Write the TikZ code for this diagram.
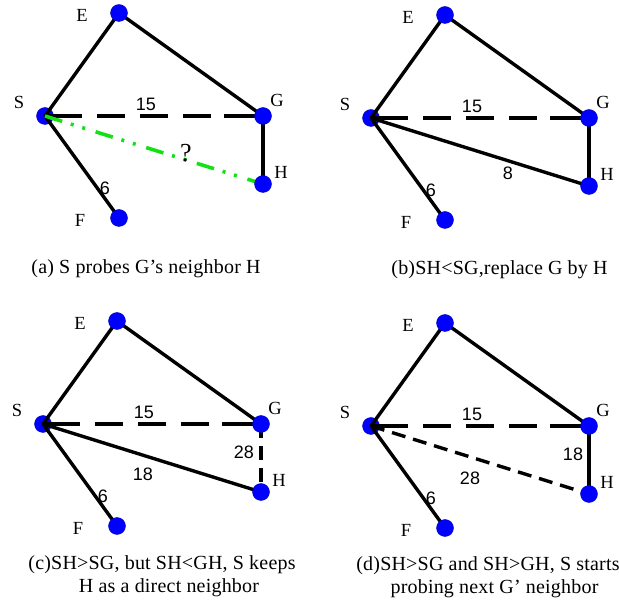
\documentclass[tikz,border=0pt]{standalone}
\usepackage{fontspec}
\setmainfont{Liberation Serif}
\newfontfamily\capfont[LetterSpace=1]{Liberation Serif}
\newfontfamily\numfont{Liberation Sans}
\definecolor{probegreen}{RGB}{20,225,20}
\pgfdeclarelayer{fg}
\pgfsetlayers{main,fg}
\newcommand\mygraph[1]{%
  \node[vertex] (#1S) at (0,0) {};
  \begin{pgfonlayer}{fg}
    \node[vertex] (#1E) at (74,-103) {};
    \node[vertex] (#1G) at (218,0) {};
    \node[vertex] (#1H) at (218,68) {};
    \node[vertex] (#1F) at (74,102) {};
  \end{pgfonlayer}
  \node[vlabel] (#1Sl) at (-26,-14) {S};
  \node[vlabel] (#1El) at (37,-101) {E};
  \node[vlabel] (#1Gl) at (232,-16) {G};
  \node[vlabel] (#1Hl) at (236,56) {H};
  \node[vlabel] (#1Fl) at (35,104) {F};
  \draw[edge] (#1S.center) -- (#1E.center);
  \draw[edge] (#1E.center) -- (#1G.center);
  \draw[edge] (#1S.center) -- (#1F.center);
  \draw[longdash] (#1S.center) -- (#1G.center);
  \node[wlabel] (#1w15) at (101,-12) {15};
  \node[wlabel] (#1w6) at (60,72) {6};
}
\begin{document}
\begin{tikzpicture}[x=1pt,y=-1pt,
  vertex/.style={circle,fill=blue,draw=blue!75!black,line width=0.4pt,inner sep=0pt,minimum size=17pt},
  vlabel/.style={font=\fontsize{18.5}{18.5}\selectfont,inner sep=0pt},
  wlabel/.style={font=\numfont\fontsize{18}{18}\selectfont,inner sep=0pt},
  caption/.style={font=\capfont\fontsize{20}{20}\selectfont,inner sep=0pt,anchor=base},
  edge/.style={line width=3.4pt,draw=black},
  longdash/.style={edge,dash pattern=on 37pt off 15pt on 28pt off 15pt on 28pt off 15pt on 28pt off 13pt on 40pt},
  shortdash/.style={edge,dash pattern=on 14pt off 8pt},
  probe/.style={line width=3.6pt,draw=probegreen,dash pattern=on 18pt off 9pt on 3pt off 9pt on 3pt off 11pt}]
\useasboundingbox (0,0) rectangle (619,601);

% (a)
\begin{scope}[shift={(45,116)}]
  \mygraph{a}
  \draw[edge] (aG.center) -- (aH.center);
  \draw[probe] (aS.center) -- (aH.center);
  \node[vlabel,font=\fontsize{26}{26}\selectfont] (aq) at (141,37) {?};
\end{scope}
\node[caption] (capa) at (146,274) {(a) S probes G’s neighbor H};

% (b)
\begin{scope}[shift={(371,118)}]
  \mygraph{b}
  \draw[edge] (bG.center) -- (bH.center);
  \draw[edge] (bS.center) -- (bH.center);
  \node[wlabel] (bw8) at (137,55) {8};
\end{scope}
\node[caption] (capb) at (499.5,275) {(b)SH<SG,replace G by H};

% (c)
\begin{scope}[shift={(43,424)}]
  \mygraph{c}
  \draw[shortdash] (cG.center) -- (cH.center);
  \draw[edge] (cS.center) -- (cH.center);
  \node[wlabel] (cw28) at (201,28) {28};
  \node[wlabel] (cw18) at (100,50) {18};
\end{scope}
\node[caption] (capc1) at (162,569) {(c)SH>SG, but SH<GH, S keeps};
\node[caption] (capc2) at (169,593) {H as a direct neighbor};

% (d)
\begin{scope}[shift={(371,426)}]
  \mygraph{d}
  \draw[edge] (dG.center) -- (dH.center);
  \draw[shortdash] (dS.center) -- (dH.center);
  \node[wlabel] (dw18) at (202,28) {18};
  \node[wlabel] (dw28) at (99,52) {28};
\end{scope}
\node[caption] (capd1) at (488,570) {(d)SH>SG and SH>GH, S starts};
\node[caption] (capd2) at (494.5,594) {probing next G’ neighbor};
\end{tikzpicture}
\end{document}
